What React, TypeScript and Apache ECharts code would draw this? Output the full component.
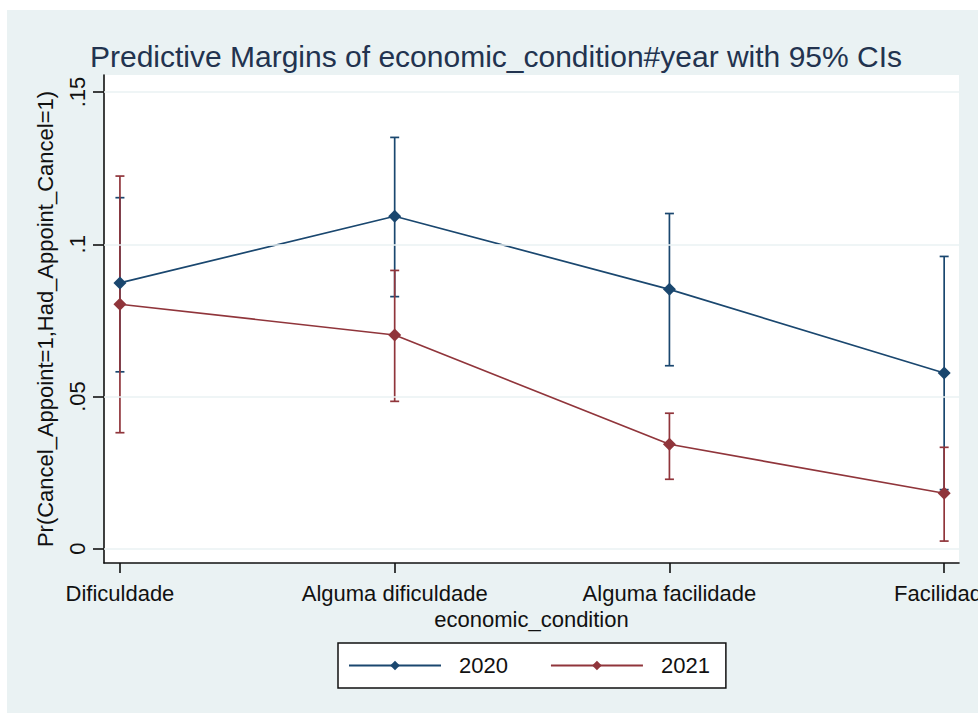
import React, { useEffect, useRef } from "react";
import * as echarts from "echarts";

// Categories of economic_condition (x axis)
const categories = ["Dificuldade", "Alguma dificuldade", "Alguma facilidade", "Facilidade"];
const categoryIndex = [0, 1, 2, 3];

// Predictive margins and 95% confidence limits, year 2020
const margin2020 = [0.0873, 0.1092, 0.0852, 0.0577];
const lower2020 = [0.0581, 0.0828, 0.0601, 0.0194];
const upper2020 = [0.1153, 0.1351, 0.1101, 0.096];

// Predictive margins and 95% confidence limits, year 2021
const margin2021 = [0.0803, 0.0702, 0.0343, 0.0182];
const lower2021 = [0.0381, 0.0484, 0.0228, 0.0025];
const upper2021 = [0.1224, 0.0914, 0.0445, 0.0333];

// Y axis ticks and their labels
const yTicks = [0, 0.05, 0.1, 0.15];
const yTickLabels = ["0", ".05", ".1", ".15"];

const BLUE = "#1a476f";
const RED = "#90353b";
const BG = "#eaf2f3";
const INK = "#111111";
const FONT = "'Liberation Sans', Arial, sans-serif";

function ciSeries(name: string, lo: number[], hi: number[], color: string, z: number) {
  return {
    name: name + " CI",
    type: "custom",
    z,
    silent: true,
    data: categoryIndex.map((i) => [i, lo[i], hi[i]]),
    encode: { x: 0, y: [1, 2] },
    renderItem: (_params: any, api: any) => {
      const x = api.value(0);
      const a = api.coord([x, api.value(1)]);
      const b = api.coord([x, api.value(2)]);
      const cap = 4.5;
      const style = { stroke: color, lineWidth: 1.7 };
      return {
        type: "group",
        children: [
          { type: "line", shape: { x1: a[0], y1: a[1], x2: b[0], y2: b[1] }, style },
          { type: "line", shape: { x1: a[0] - cap, y1: a[1], x2: a[0] + cap, y2: a[1] }, style },
          { type: "line", shape: { x1: b[0] - cap, y1: b[1], x2: b[0] + cap, y2: b[1] }, style },
        ],
      };
    },
  };
}

function lineSeries(name: string, values: number[], color: string, z: number) {
  return {
    name,
    type: "line",
    z,
    data: categoryIndex.map((i) => [i, values[i]]),
    symbol: "diamond",
    symbolSize: 13,
    showSymbol: true,
    lineStyle: { color, width: 1.7 },
    itemStyle: { color },
  };
}

export default function App() {
  const ref = useRef<HTMLDivElement>(null);

  useEffect(() => {
    if (!ref.current) return;
    const chart = echarts.init(ref.current, undefined, { renderer: "svg" });
    chart.setOption({
      animation: false,
      backgroundColor: BG,
      textStyle: { fontFamily: FONT },
      graphic: [
        { type: "rect", shape: { x: 0, y: 0, width: 978, height: 10 }, style: { fill: "#ffffff" } },
        { type: "rect", shape: { x: 0, y: 0, width: 7, height: 713 }, style: { fill: "#ffffff" } },
        {
          type: "text",
          x: 496,
          y: 56,
          style: {
            text: "Predictive Margins of economic_condition#year with 95% CIs",
            fontFamily: FONT,
            fontSize: 30,
            fill: "#22334f",
            textAlign: "center",
            textVerticalAlign: "middle",
          },
        },
      ],
      grid: {
        left: 104,
        right: 19,
        top: 75,
        bottom: 150,
        containLabel: false,
        outerBoundsMode: "none",
        show: true,
        backgroundColor: "#ffffff",
        borderWidth: 0,
      },
      legend: {
        data: ["2020", "2021"],
        left: 338,
        top: 643,
        padding: [11, 16, 11, 10],
        itemGap: 42,
        itemWidth: 92,
        itemHeight: 12,
        backgroundColor: "#ffffff",
        borderColor: INK,
        borderWidth: 1.5,
        borderRadius: 0,
        textStyle: { fontFamily: FONT, fontSize: 22, color: INK, lineHeight: 23, padding: [0, 0, 0, 13] },
      },
      xAxis: {
        type: "value",
        min: -0.058,
        max: 3.054,
        name: "economic_condition",
        nameLocation: "middle",
        nameGap: 37,
        nameTextStyle: { fontFamily: FONT, fontSize: 22, color: INK },
        axisLine: { show: true, onZero: false, lineStyle: { color: INK, width: 1.6 } },
        axisTick: { show: true, customValues: categoryIndex, length: 10, lineStyle: { color: INK, width: 1.6 } },
        axisLabel: {
          customValues: categoryIndex,
          formatter: (v: number) => categories[Math.round(v)] ?? "",
          fontFamily: FONT,
          fontSize: 22,
          color: INK,
          margin: 19,
        },
        splitLine: { show: false },
      },
      yAxis: {
        type: "value",
        min: -0.0047,
        max: 0.1556,
        name: "Pr(Cancel_Appoint=1,Had_Appoint_Cancel=1)",
        nameLocation: "middle",
        nameGap: 48,
        nameTextStyle: { fontFamily: FONT, fontSize: 22, color: INK },
        axisLine: { show: true, onZero: false, lineStyle: { color: INK, width: 1.6 } },
        axisTick: { show: true, customValues: yTicks, length: 11, lineStyle: { color: INK, width: 1.6 } },
        axisLabel: {
          customValues: yTicks,
          formatter: (v: number) => {
            const k = yTicks.findIndex((t) => Math.abs(t - v) < 1e-9);
            return k >= 0 ? yTickLabels[k] : "";
          },
          rotate: 90,
          fontFamily: FONT,
          fontSize: 22,
          color: INK,
          margin: 16,
        },
        splitLine: { show: false },
      },
      series: [
        {
          name: "grid lines",
          type: "line",
          z: 1,
          data: [],
          silent: true,
          markLine: {
            silent: true,
            symbol: ["none", "none"],
            label: { show: false },
            lineStyle: { color: BG, width: 1.6, type: "solid" },
            data: yTicks.map((t) => ({ yAxis: t })),
          },
        },
        ciSeries("2020", lower2020, upper2020, BLUE, 2),
        ciSeries("2021", lower2021, upper2021, RED, 3),
        lineSeries("2020", margin2020, BLUE, 4),
        lineSeries("2021", margin2021, RED, 5),
      ],
    });
    return () => chart.dispose();
  }, []);

  return (
    <div
      ref={ref}
      style={{ position: "absolute", left: 0, top: 0, width: 978, height: 713 }}
    />
  );
}
